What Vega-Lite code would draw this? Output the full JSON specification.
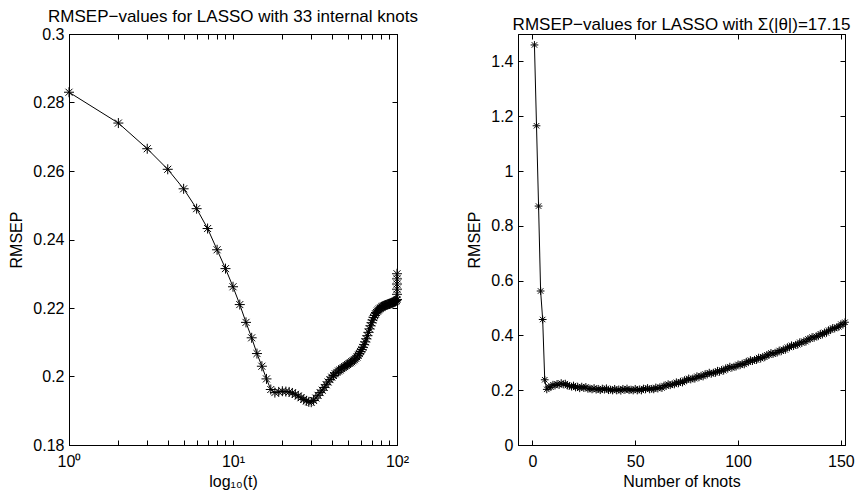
{
  "$schema": "https://vega.github.io/schema/vega-lite/v6.json",
  "padding": {"left": 8, "top": 7, "right": 2, "bottom": 2},
  "background": "white",
  "spacing": 121,
  "bounds": "flush",
  "datasets": {
    "left": [
      {"i":1,"t":1,"rmsep":0.2830},{"i":2,"t":2,"rmsep":0.2740},{"i":3,"t":3,"rmsep":0.2665},{"i":4,"t":4,"rmsep":0.2605},{"i":5,"t":5,"rmsep":0.2548},
      {"i":6,"t":6,"rmsep":0.2490},{"i":7,"t":7,"rmsep":0.2432},{"i":8,"t":8,"rmsep":0.2370},{"i":9,"t":9,"rmsep":0.2315},{"i":10,"t":10,"rmsep":0.2262},
      {"i":11,"t":11,"rmsep":0.2210},{"i":12,"t":12,"rmsep":0.2158},{"i":13,"t":13,"rmsep":0.2113},{"i":14,"t":14,"rmsep":0.2067},{"i":15,"t":15,"rmsep":0.2030},
      {"i":16,"t":16,"rmsep":0.1993},{"i":17,"t":17,"rmsep":0.1962},{"i":18,"t":18,"rmsep":0.1953},{"i":19,"t":19,"rmsep":0.1955},{"i":20,"t":20,"rmsep":0.1957},
      {"i":21,"t":21,"rmsep":0.1956},{"i":22,"t":22,"rmsep":0.1955},{"i":23,"t":23,"rmsep":0.1952},{"i":24,"t":24,"rmsep":0.1948},{"i":25,"t":25,"rmsep":0.1943},
      {"i":26,"t":26,"rmsep":0.1938},{"i":27,"t":27,"rmsep":0.1933},{"i":28,"t":28,"rmsep":0.1929},{"i":29,"t":29,"rmsep":0.1926},{"i":30,"t":30,"rmsep":0.1925},
      {"i":31,"t":31,"rmsep":0.1930},{"i":32,"t":32,"rmsep":0.1937},{"i":33,"t":33,"rmsep":0.1945},{"i":34,"t":34,"rmsep":0.1953},{"i":35,"t":35,"rmsep":0.1960},
      {"i":36,"t":36,"rmsep":0.1968},{"i":37,"t":37,"rmsep":0.1976},{"i":38,"t":38,"rmsep":0.1984},{"i":39,"t":39,"rmsep":0.1991},{"i":40,"t":40,"rmsep":0.1998},
      {"i":41,"t":41,"rmsep":0.2003},{"i":42,"t":42,"rmsep":0.2008},{"i":43,"t":43,"rmsep":0.2012},{"i":44,"t":44,"rmsep":0.2016},{"i":45,"t":45,"rmsep":0.2019},
      {"i":46,"t":46,"rmsep":0.2023},{"i":47,"t":47,"rmsep":0.2026},{"i":48,"t":48,"rmsep":0.2029},{"i":49,"t":49,"rmsep":0.2032},{"i":50,"t":50,"rmsep":0.2035},
      {"i":51,"t":51,"rmsep":0.2038},{"i":52,"t":52,"rmsep":0.2040},{"i":53,"t":53,"rmsep":0.2043},{"i":54,"t":54,"rmsep":0.2046},{"i":55,"t":55,"rmsep":0.2049},
      {"i":56,"t":56,"rmsep":0.2053},{"i":57,"t":57,"rmsep":0.2057},{"i":58,"t":58,"rmsep":0.2062},{"i":59,"t":59,"rmsep":0.2067},{"i":60,"t":60,"rmsep":0.2073},
      {"i":61,"t":61,"rmsep":0.2079},{"i":62,"t":62,"rmsep":0.2085},{"i":63,"t":63,"rmsep":0.2093},{"i":64,"t":64,"rmsep":0.2101},{"i":65,"t":65,"rmsep":0.2110},
      {"i":66,"t":66,"rmsep":0.2119},{"i":67,"t":67,"rmsep":0.2129},{"i":68,"t":68,"rmsep":0.2139},{"i":69,"t":69,"rmsep":0.2148},{"i":70,"t":70,"rmsep":0.2157},
      {"i":71,"t":71,"rmsep":0.2165},{"i":72,"t":72,"rmsep":0.2172},{"i":73,"t":73,"rmsep":0.2178},{"i":74,"t":74,"rmsep":0.2183},{"i":75,"t":75,"rmsep":0.2187},
      {"i":76,"t":76,"rmsep":0.2191},{"i":77,"t":77,"rmsep":0.2194},{"i":78,"t":78,"rmsep":0.2197},{"i":79,"t":79,"rmsep":0.2199},{"i":80,"t":80,"rmsep":0.2201},
      {"i":81,"t":81,"rmsep":0.2203},{"i":82,"t":82,"rmsep":0.2205},{"i":83,"t":83,"rmsep":0.2206},{"i":84,"t":84,"rmsep":0.2207},{"i":85,"t":85,"rmsep":0.2208},
      {"i":86,"t":86,"rmsep":0.2209},{"i":87,"t":87,"rmsep":0.2210},{"i":88,"t":88,"rmsep":0.2211},{"i":89,"t":89,"rmsep":0.2212},{"i":90,"t":90,"rmsep":0.2212},
      {"i":91,"t":91,"rmsep":0.2213},{"i":92,"t":92,"rmsep":0.2214},{"i":93,"t":93,"rmsep":0.2215},{"i":94,"t":94,"rmsep":0.2216},{"i":95,"t":95,"rmsep":0.2217},
      {"i":96,"t":96,"rmsep":0.2218},{"i":97,"t":97,"rmsep":0.2219},{"i":98,"t":98,"rmsep":0.2220},{"i":99,"t":99,"rmsep":0.2222},{"i":100,"t":100,"rmsep":0.2225},
      {"i":101,"t":100,"rmsep":0.2240},{"i":102,"t":100,"rmsep":0.2255},{"i":103,"t":100,"rmsep":0.2270},{"i":104,"t":100,"rmsep":0.2285},{"i":105,"t":100,"rmsep":0.2300}
    ],
    "right": [
      {"k":1,"rmsep":1.460},{"k":2,"rmsep":1.165},{"k":3,"rmsep":0.872},{"k":4,"rmsep":0.562},{"k":5,"rmsep":0.458},
      {"k":6,"rmsep":0.238},{"k":7,"rmsep":0.203},{"k":8,"rmsep":0.212},{"k":9,"rmsep":0.211},{"k":10,"rmsep":0.220},
      {"k":11,"rmsep":0.217},{"k":12,"rmsep":0.223},{"k":13,"rmsep":0.219},{"k":14,"rmsep":0.226},{"k":15,"rmsep":0.221},
      {"k":16,"rmsep":0.224},{"k":17,"rmsep":0.217},{"k":18,"rmsep":0.216},{"k":19,"rmsep":0.213},{"k":20,"rmsep":0.217},
      {"k":21,"rmsep":0.210},{"k":22,"rmsep":0.213},{"k":23,"rmsep":0.207},{"k":24,"rmsep":0.213},{"k":25,"rmsep":0.208},
      {"k":26,"rmsep":0.212},{"k":27,"rmsep":0.205},{"k":28,"rmsep":0.206},{"k":29,"rmsep":0.203},{"k":30,"rmsep":0.208},
      {"k":31,"rmsep":0.202},{"k":32,"rmsep":0.205},{"k":33,"rmsep":0.200},{"k":34,"rmsep":0.206},{"k":35,"rmsep":0.202},
      {"k":36,"rmsep":0.207},{"k":37,"rmsep":0.200},{"k":38,"rmsep":0.202},{"k":39,"rmsep":0.199},{"k":40,"rmsep":0.205},
      {"k":41,"rmsep":0.199},{"k":42,"rmsep":0.203},{"k":43,"rmsep":0.198},{"k":44,"rmsep":0.205},{"k":45,"rmsep":0.201},
      {"k":46,"rmsep":0.206},{"k":47,"rmsep":0.200},{"k":48,"rmsep":0.202},{"k":49,"rmsep":0.199},{"k":50,"rmsep":0.205},
      {"k":51,"rmsep":0.199},{"k":52,"rmsep":0.203},{"k":53,"rmsep":0.199},{"k":54,"rmsep":0.206},{"k":55,"rmsep":0.203},
      {"k":56,"rmsep":0.208},{"k":57,"rmsep":0.203},{"k":58,"rmsep":0.205},{"k":59,"rmsep":0.203},{"k":60,"rmsep":0.210},
      {"k":61,"rmsep":0.206},{"k":62,"rmsep":0.211},{"k":63,"rmsep":0.208},{"k":64,"rmsep":0.217},{"k":65,"rmsep":0.215},
      {"k":66,"rmsep":0.222},{"k":67,"rmsep":0.218},{"k":68,"rmsep":0.222},{"k":69,"rmsep":0.221},{"k":70,"rmsep":0.229},
      {"k":71,"rmsep":0.225},{"k":72,"rmsep":0.231},{"k":73,"rmsep":0.228},{"k":74,"rmsep":0.237},{"k":75,"rmsep":0.236},
      {"k":76,"rmsep":0.243},{"k":77,"rmsep":0.239},{"k":78,"rmsep":0.243},{"k":79,"rmsep":0.242},{"k":80,"rmsep":0.251},
      {"k":81,"rmsep":0.247},{"k":82,"rmsep":0.253},{"k":83,"rmsep":0.250},{"k":84,"rmsep":0.259},{"k":85,"rmsep":0.257},
      {"k":86,"rmsep":0.264},{"k":87,"rmsep":0.260},{"k":88,"rmsep":0.264},{"k":89,"rmsep":0.263},{"k":90,"rmsep":0.271},
      {"k":91,"rmsep":0.267},{"k":92,"rmsep":0.274},{"k":93,"rmsep":0.271},{"k":94,"rmsep":0.280},{"k":95,"rmsep":0.278},
      {"k":96,"rmsep":0.286},{"k":97,"rmsep":0.282},{"k":98,"rmsep":0.286},{"k":99,"rmsep":0.286},{"k":100,"rmsep":0.294},
      {"k":101,"rmsep":0.291},{"k":102,"rmsep":0.297},{"k":103,"rmsep":0.294},{"k":104,"rmsep":0.304},{"k":105,"rmsep":0.302},
      {"k":106,"rmsep":0.310},{"k":107,"rmsep":0.306},{"k":108,"rmsep":0.311},{"k":109,"rmsep":0.310},{"k":110,"rmsep":0.319},
      {"k":111,"rmsep":0.315},{"k":112,"rmsep":0.322},{"k":113,"rmsep":0.320},{"k":114,"rmsep":0.329},{"k":115,"rmsep":0.328},
      {"k":116,"rmsep":0.336},{"k":117,"rmsep":0.332},{"k":118,"rmsep":0.337},{"k":119,"rmsep":0.337},{"k":120,"rmsep":0.345},
      {"k":121,"rmsep":0.342},{"k":122,"rmsep":0.349},{"k":123,"rmsep":0.347},{"k":124,"rmsep":0.357},{"k":125,"rmsep":0.356},
      {"k":126,"rmsep":0.364},{"k":127,"rmsep":0.361},{"k":128,"rmsep":0.366},{"k":129,"rmsep":0.366},{"k":130,"rmsep":0.375},
      {"k":131,"rmsep":0.372},{"k":132,"rmsep":0.379},{"k":133,"rmsep":0.377},{"k":134,"rmsep":0.387},{"k":135,"rmsep":0.386},
      {"k":136,"rmsep":0.394},{"k":137,"rmsep":0.391},{"k":138,"rmsep":0.397},{"k":139,"rmsep":0.397},{"k":140,"rmsep":0.406},
      {"k":141,"rmsep":0.403},{"k":142,"rmsep":0.411},{"k":143,"rmsep":0.409},{"k":144,"rmsep":0.419},{"k":145,"rmsep":0.419},
      {"k":146,"rmsep":0.427},{"k":147,"rmsep":0.425},{"k":148,"rmsep":0.430},{"k":149,"rmsep":0.431},{"k":150,"rmsep":0.441},
      {"k":151,"rmsep":0.439},{"k":152,"rmsep":0.448}
    ]
  },
  "hconcat": [
    {
      "width": 328,
      "height": 411,
      "title": {"text": "RMSEP−values for LASSO with 33 internal knots", "anchor": "middle", "frame": "group", "offset": 0},
      "data": {"name": "left"},
      "layer": [
        {
          "mark": {"type": "line", "color": "black", "strokeWidth": 1, "clip": false},
          "encoding": {
            "x": {"field": "t", "type": "quantitative",
                  "scale": {"type": "log", "domain": [1, 100], "nice": false},
                  "axis": {"orient": "bottom", "title": "log₁₀(t)",
                           "values": [1,2,3,4,5,6,7,8,9,10,20,30,40,50,60,70,80,90,100],
                           "labelExpr": "datum.value == 1 ? '10⁰' : datum.value == 10 ? '10¹' : datum.value == 100 ? '10²' : ''"}},
            "y": {"field": "rmsep", "type": "quantitative",
                  "scale": {"domain": [0.18, 0.3], "nice": false, "zero": false},
                  "axis": {"orient": "left", "title": "RMSEP", "values": [0.18,0.2,0.22,0.24,0.26,0.28,0.3], "format": "~g"}},
            "order": {"field": "i", "type": "quantitative"}
          }
        },
        {
          "mark": {"type": "point", "shape": "M-1,0H1M0,-1V1M-0.7,-0.7L0.7,0.7M-0.7,0.7L0.7,-0.7", "size": 100, "filled": false, "color": "black", "strokeWidth": 1, "opacity": 1, "clip": false},
          "encoding": {
            "x": {"field": "t", "type": "quantitative",
                  "axis": {"orient": "top", "labels": false, "title": null,
                           "values": [1,2,3,4,5,6,7,8,9,10,20,30,40,50,60,70,80,90,100]}},
            "y": {"field": "rmsep", "type": "quantitative",
                  "axis": {"orient": "right", "labels": false, "title": null, "values": [0.18,0.2,0.22,0.24,0.26,0.28,0.3]}}
          }
        }
      ],
      "resolve": {"axis": {"x": "independent", "y": "independent"}}
    },
    {
      "width": 327,
      "height": 411,
      "title": {"text": "RMSEP−values for LASSO with Σ(|θ|)=17.15", "anchor": "middle", "frame": "group", "offset": 0},
      "data": {"name": "right"},
      "layer": [
        {
          "mark": {"type": "line", "color": "black", "strokeWidth": 1, "clip": false},
          "encoding": {
            "x": {"field": "k", "type": "quantitative",
                  "scale": {"domain": [-7, 152], "nice": false, "zero": false},
                  "axis": {"orient": "bottom", "title": "Number of knots", "values": [0, 50, 100, 150]}},
            "y": {"field": "rmsep", "type": "quantitative",
                  "scale": {"domain": [0, 1.5], "nice": false},
                  "axis": {"orient": "left", "title": "RMSEP", "values": [0,0.2,0.4,0.6,0.8,1,1.2,1.4], "format": "~g"}}
          }
        },
        {
          "mark": {"type": "point", "shape": "M-1,0H1M0,-1V1M-0.7,-0.7L0.7,0.7M-0.7,0.7L0.7,-0.7", "size": 60, "filled": false, "color": "black", "strokeWidth": 1, "opacity": 1, "clip": false},
          "encoding": {
            "x": {"field": "k", "type": "quantitative",
                  "axis": {"orient": "top", "labels": false, "title": null, "values": [0, 50, 100, 150]}},
            "y": {"field": "rmsep", "type": "quantitative",
                  "axis": {"orient": "right", "labels": false, "title": null, "values": [0,0.2,0.4,0.6,0.8,1,1.2,1.4]}}
          }
        }
      ],
      "resolve": {"axis": {"x": "independent", "y": "independent"}}
    }
  ],
  "config": {
    "font": "Liberation Sans",
    "view": {"stroke": "black", "strokeWidth": 1},
    "title": {"font": "Liberation Sans", "fontSize": 17, "fontWeight": "normal", "color": "black"},
    "axis": {
      "grid": false,
      "domainColor": "black",
      "domainWidth": 1,
      "tickColor": "black",
      "tickSize": -5,
      "tickWidth": 1,
      "labelFont": "Liberation Sans",
      "labelFontSize": 16,
      "labelColor": "black",
      "labelFlush": false,
      "labelOverlap": false,
      "titleFont": "Liberation Sans",
      "titleFontSize": 16,
      "titleFontWeight": "normal",
      "titleColor": "black"
    },
    "axisX": {"labelPadding": 13, "titlePadding": 4},
    "axisY": {"labelPadding": 10, "titlePadding": 8}
  }
}
